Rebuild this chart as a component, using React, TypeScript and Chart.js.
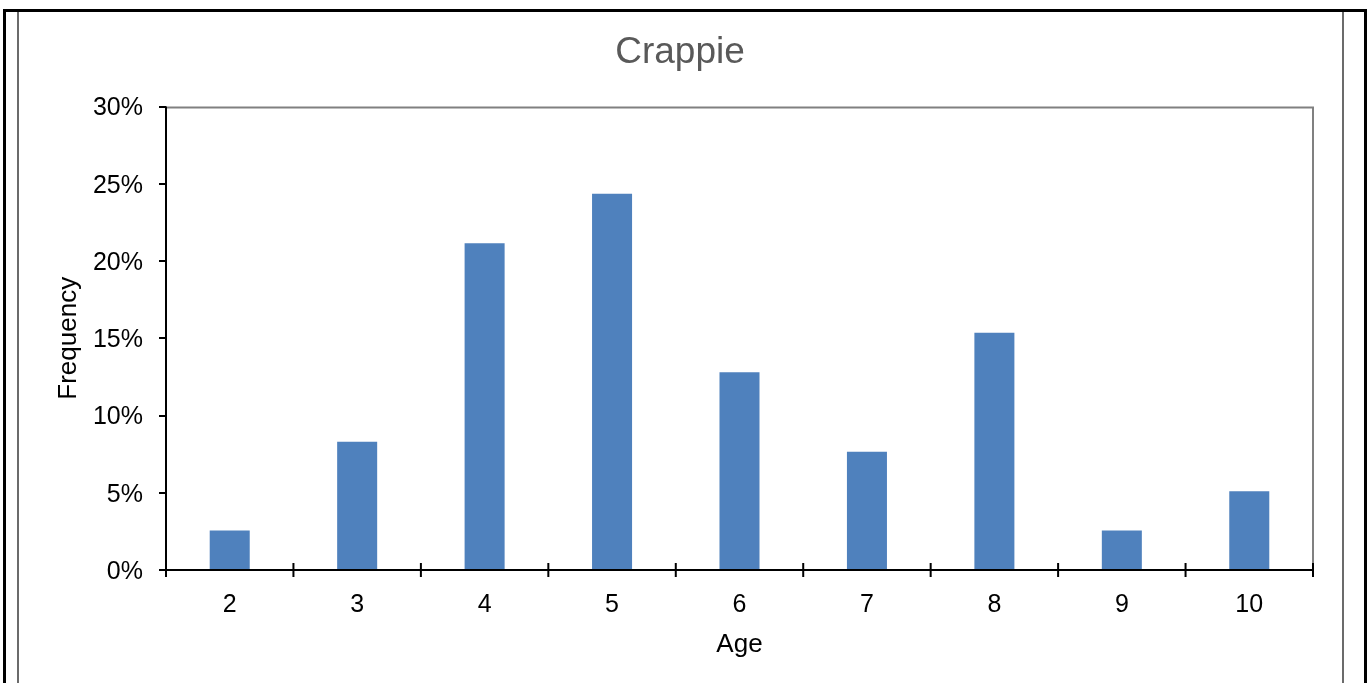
import React, { useEffect, useRef } from "react";
import { Chart, registerables } from "chart.js";

Chart.register(...registerables);

const chartTitle = "Crappie";
const xAxisTitle = "Age";
const yAxisTitle = "Frequency";
const ages = ["2", "3", "4", "5", "6", "7", "8", "9", "10"];
const frequencyPct = [2.56, 8.3, 21.15, 24.35, 12.8, 7.65, 15.35, 2.56, 5.1];
const yTickValues = [0, 5, 10, 15, 20, 25, 30];

const FONT = "'Liberation Sans', Arial, Helvetica, sans-serif";

const framePlugin = {
  id: "frame",
  beforeDraw(chart: any) {
    const { ctx, width, height } = chart;
    ctx.save();
    ctx.fillStyle = "#ffffff";
    ctx.fillRect(0, 0, width, height);
    ctx.fillStyle = "#000000";
    ctx.fillRect(3, 9, 3, height);
    ctx.fillRect(3, 9, width - 3, 3);
    ctx.fillRect(width - 3, 9, 3, height);
    ctx.fillStyle = "#6b6b6b";
    ctx.fillRect(17, 12, 2, height);
    ctx.fillRect(1342, 12, 2, height);
    ctx.restore();
  },
  afterDatasetsDraw(chart: any) {
    const { ctx, chartArea } = chart;
    const { left, right, top, bottom } = chartArea;
    const xs = chart.scales.x;
    const ys = chart.scales.y;
    ctx.save();
    ctx.lineWidth = 2;
    ctx.strokeStyle = "#808080";
    ctx.beginPath();
    ctx.moveTo(left, top + 1);
    ctx.lineTo(right + 1, top + 1);
    ctx.moveTo(right, top);
    ctx.lineTo(right, bottom);
    ctx.stroke();
    ctx.strokeStyle = "#000000";
    ctx.beginPath();
    ctx.moveTo(left, top);
    ctx.lineTo(left, bottom + 1);
    ctx.moveTo(left - 1, bottom);
    ctx.lineTo(right + 1, bottom);
    ctx.stroke();
    ctx.beginPath();
    yTickValues.forEach((v) => {
      const y = Math.round(ys.getPixelForValue(v));
      ctx.moveTo(left - 7, y);
      ctx.lineTo(left, y);
    });
    const n = ages.length;
    const step = xs.getPixelForValue(1) - xs.getPixelForValue(0);
    for (let i = 0; i <= n; i++) {
      const x = xs.getPixelForValue(0) - step / 2 + i * step;
      ctx.moveTo(x, bottom - 7);
      ctx.lineTo(x, bottom + 7);
    }
    ctx.stroke();
    ctx.restore();
  },
};

export default function App() {
  const canvasRef = useRef<HTMLCanvasElement | null>(null);

  useEffect(() => {
    const canvas = canvasRef.current;
    if (!canvas) return;
    const chart = new Chart(canvas, {
      type: "bar",
      data: {
        labels: ages,
        datasets: [
          {
            data: frequencyPct,
            backgroundColor: "#4F81BD",
            borderWidth: 0,
            categoryPercentage: 1,
            barPercentage: 0.314,
          },
        ],
      },
      options: {
        responsive: false,
        animation: false,
        devicePixelRatio: 1,
        layout: { padding: { left: 47, right: 54, top: 0, bottom: 0 } },
        plugins: {
          legend: { display: false },
          tooltip: { enabled: false },
          title: {
            display: true,
            text: chartTitle,
            color: "#595959",
            font: { family: FONT, size: 37, weight: "normal" },
            padding: { top: 30.8, bottom: 31.3 },
          },
        },
        scales: {
          x: {
            type: "category",
            offset: true,
            grid: { display: false, drawTicks: false },
            border: { display: false },
            ticks: {
              color: "#000000",
              font: { family: FONT, size: 25 },
              padding: 20,
              maxRotation: 0,
              autoSkip: false,
            },
            title: {
              display: true,
              text: xAxisTitle,
              color: "#000000",
              font: { family: FONT, size: 26 },
              padding: { top: 0, bottom: 23 },
            },
            afterFit(s: any) {
              s.height = 113;
            },
          },
          y: {
            min: 0,
            max: 30,
            grid: { display: false, drawTicks: false },
            border: { display: false },
            ticks: {
              stepSize: 5,
              color: "#000000",
              font: { family: FONT, size: 25 },
              padding: 23,
              labelOffset: 2,
              callback: (v: any) => `${v}%`,
            },
            title: {
              display: true,
              text: yAxisTitle,
              color: "#000000",
              font: { family: FONT, size: 26 },
              padding: { top: 6.4, bottom: 0 },
            },
            afterFit(s: any) {
              s.width = 119;
            },
          },
        },
      },
      plugins: [framePlugin],
    });
    return () => chart.destroy();
  }, []);

  return (
    <div style={{ position: "fixed", left: 0, top: 0, width: 1367, height: 683, background: "#fff" }}>
      <canvas ref={canvasRef} width={1367} height={683} style={{ display: "block" }} />
    </div>
  );
}
